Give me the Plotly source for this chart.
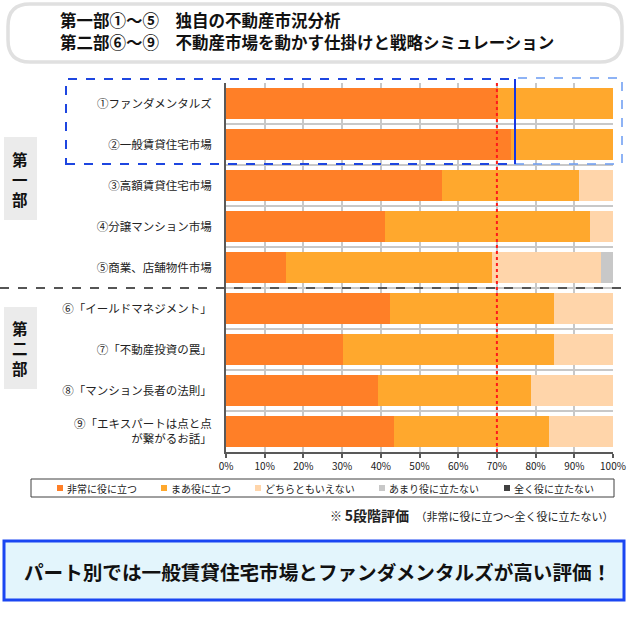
import plotly.graph_objects as go

# ---------------- data ----------------
categories = [
    "①ファンダメンタルズ",
    "②一般賃貸住宅市場",
    "③高額賃貸住宅市場",
    "④分譲マンション市場",
    "⑤商業、店舗物件市場",
    "⑥「イールドマネジメント」",
    "⑦「不動産投資の罠」",
    "⑧「マンション長者の法則」",
    "⑨「エキスパートは点と点<br>が繋がるお話」",
]
series_names = ["非常に役に立つ", "まあ役に立つ", "どちらともいえない", "あまり役に立たない", "全く役に立たない"]
very_useful = [70.4, 73.7, 55.9, 41.1, 15.5, 42.4, 30.3, 39.3, 43.4]
somewhat_useful = [29.6, 26.3, 35.4, 53.0, 53.3, 42.4, 54.5, 39.6, 40.1]
neutral = [0, 0, 8.7, 5.9, 28.2, 15.2, 15.2, 21.1, 16.5]
not_very_useful = [0, 0, 0, 0, 3.0, 0, 0, 0, 0]
not_useful_at_all = [0, 0, 0, 0, 0, 0, 0, 0, 0]
x_tick_values = [0, 10, 20, 30, 40, 50, 60, 70, 80, 90, 100]
x_tick_labels = ["0%", "10%", "20%", "30%", "40%", "50%", "60%", "70%", "80%", "90%", "100%"]
reference_line = 70
title_lines = ["第一部①～⑤　独自の不動産市況分析", "第二部⑥～⑨　不動産市場を動かす仕掛けと戦略シミュレーション"]
part_labels = ["第一部", "第二部"]
note_text = ("※ ", "5段階評価", "（非常に役に立つ～全く役に立たない）")
banner_text = "パート別では一般賃貸住宅市場とファンダメンタルズが高い評価！"

colors = ["#FF7F27", "#FFA82D", "#FFD5AA", "#C8C8C8", "#404040"]
values = [very_useful, somewhat_useful, neutral, not_very_useful, not_useful_at_all]

FONT = "Noto Sans CJK JP"
W, H = 629, 617
L, R, T, B = 226, 613, 83, 452


def fx(p):
    return (p - L) / (R - L)


def fy(p):
    return (B - p) / (B - T)


fig = go.Figure()
for name, vals, col in zip(series_names, values, colors):
    fig.add_trace(go.Bar(
        y=categories, x=vals, name=name, orientation="h",
        marker=dict(color=col, line=dict(width=0)),
        showlegend=False,
    ))

shapes = []
annotations = []

# title box (rounded)
x0, x1, y0, y1 = fx(8), fx(622), fy(4), fy(62)
rx, ry = 22 / (R - L), 22 / (B - T)
path = (f"M {x0+rx},{y0} L {x1-rx},{y0} Q {x1},{y0} {x1},{y0-ry} L {x1},{y1+ry} "
        f"Q {x1},{y1} {x1-rx},{y1} L {x0+rx},{y1} Q {x0},{y1} {x0},{y1+ry} "
        f"L {x0},{y0-ry} Q {x0},{y0} {x0+rx},{y0} Z")
shapes.append(dict(type="path", xref="paper", yref="paper", path=path,
                   line=dict(color="#E0E0E0", width=3.5), fillcolor="white"))
for i, line in enumerate(title_lines):
    annotations.append(dict(xref="paper", yref="paper", x=fx(58), y=fy(20 + 22 * i),
                            xanchor="left", yanchor="middle", showarrow=False,
                            text=f"<b>{line}</b>", font=dict(size=16.5, color="#111111", family=FONT)))

# part side boxes (vertical text)
for lab, (top, bot) in zip(part_labels, [(137, 220), (307, 389)]):
    shapes.append(dict(type="rect", xref="paper", yref="paper", x0=fx(4), x1=fx(37),
                       y0=fy(bot), y1=fy(top), fillcolor="#EBEBEB", line=dict(width=0), layer="below"))
    cy = (top + bot) / 2
    annotations.append(dict(xref="paper", yref="paper", x=fx(20.5), y=fy(cy),
                            xanchor="center", yanchor="middle", showarrow=False,
                            text="<b>" + "<br>".join(lab) + "</b>",
                            font=dict(size=15.5, color="#111111", family=FONT)))

# dashed divider between parts
shapes.append(dict(type="line", xref="paper", yref="y", x0=fx(0), x1=fx(629), y0=4.5, y1=4.5,
                   line=dict(color="#555555", width=2, dash="dash"), layer="above"))

# red 70% line
shapes.append(dict(type="line", xref="x", yref="paper", x0=reference_line, x1=reference_line, y0=0, y1=1,
                   line=dict(color="#FF1A1A", width=2, dash="dot"), layer="above"))

# blue highlight boxes
shapes.append(dict(type="rect", xref="paper", yref="paper", x0=fx(515), x1=fx(622), y0=fy(164), y1=fy(78),
                   line=dict(color="#6A9BF2", width=1.5, dash="dash"), layer="above"))
shapes.append(dict(type="rect", xref="paper", yref="paper", x0=fx(66), x1=fx(515), y0=fy(164), y1=fy(79),
                   line=dict(color="#1E46E0", width=2, dash="dash"), layer="above"))
shapes.append(dict(type="line", xref="paper", yref="paper", x0=fx(515), x1=fx(515), y0=fy(164), y1=fy(79),
                   line=dict(color="#1437E6", width=2), layer="above"))

# legend (custom)
shapes.append(dict(type="rect", xref="paper", yref="paper", x0=fx(31), x1=fx(614), y0=fy(497), y1=fy(479),
                   line=dict(color="#404040", width=1), fillcolor="white"))
legend_x = [57, 161, 255, 379, 504]
for name, col, lx in zip(series_names, colors, legend_x):
    shapes.append(dict(type="rect", xref="paper", yref="paper", x0=fx(lx), x1=fx(lx + 6),
                       y0=fy(491), y1=fy(485), fillcolor=col, line=dict(width=0)))
    annotations.append(dict(xref="paper", yref="paper", x=fx(lx + 8), y=fy(488), xanchor="left",
                            yanchor="middle", showarrow=False, text=name,
                            font=dict(size=10, color="#222222", family=FONT)))

# note
annotations.append(dict(xref="paper", yref="paper", x=fx(615), y=fy(515), xanchor="right", yanchor="middle",
                        showarrow=False,
                        text=(f"<span style='font-size:12px'>{note_text[0]}</span>"
                              f"<b><span style='font-size:14px'>{note_text[1]}</span></b>　"
                              f"<span style='font-size:11px'>{note_text[2]}</span>"),
                        font=dict(size=12, color="#222222", family=FONT)))

# bottom banner
shapes.append(dict(type="rect", xref="paper", yref="paper", x0=fx(4), x1=fx(624), y0=fy(600), y1=fy(541),
                   fillcolor="#E3F5FC", line=dict(color="#1A46F2", width=3)))
annotations.append(dict(xref="paper", yref="paper", x=fx(317), y=fy(571), xanchor="center", yanchor="middle",
                        showarrow=False, text=f"<b>{banner_text}</b>",
                        font=dict(size=19.6, color="#111111", family=FONT)))

fig.update_layout(
    width=W, height=H,
    margin=dict(l=L, r=W - R, t=T, b=H - B, autoexpand=False),
    barmode="stack", bargap=0.25,
    paper_bgcolor="white", plot_bgcolor="white",
    font=dict(family=FONT, size=12, color="#222222"),
    shapes=shapes, annotations=annotations,
    showlegend=False,
    xaxis=dict(range=[0, 100], tickvals=x_tick_values, ticktext=x_tick_labels,
               showgrid=True, gridcolor="#C8C8C8", gridwidth=2,
               showline=True, linecolor="#595959", linewidth=2,
               ticks="outside", ticklen=4, tickcolor="#595959", tickwidth=2,
               tickfont=dict(size=10, color="#222222"), automargin=False, zeroline=False,
               fixedrange=True),
    yaxis=dict(autorange="reversed", type="category", tickson="boundaries",
               showgrid=True, gridcolor="#C8C8C8", gridwidth=2,
               showline=True, linecolor="#595959", linewidth=2,
               ticks="", ticklabelstandoff=10,
               tickfont=dict(size=11.5, color="#222222"), automargin=False, fixedrange=True),
)

fig.write_html("out.html", config={"displayModeBar": False},
               post_script="document.body.style.margin='0';document.body.style.overflow='hidden';")
